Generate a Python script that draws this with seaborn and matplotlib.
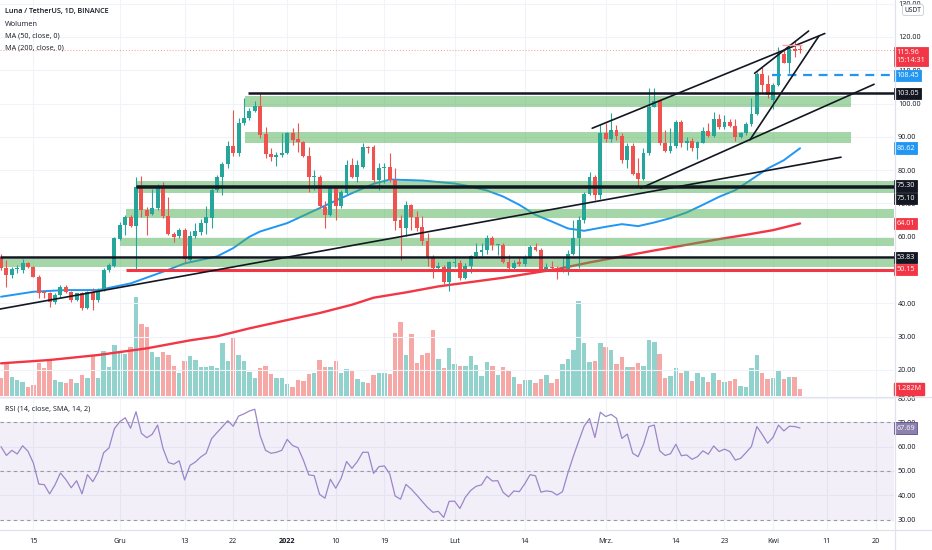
import numpy as np
import pandas as pd
import matplotlib
matplotlib.use("Agg")
import matplotlib.pyplot as plt
import matplotlib.dates as mdates
import matplotlib.transforms as mtransforms
from matplotlib.lines import Line2D
import seaborn as sns

# ---- data (LUNA/USDT daily, from 9 Nov 2021) ----
first_day = "2021-11-09"

opens = [54.0, 50.5, 48.5, 50.2, 50.0, 52.0, 51.0, 48.0, 43.5, 43.0,
         40.3, 42.6, 45.0, 43.3, 41.0, 43.0, 38.5, 43.5, 41.0, 44.0,
         50.0, 51.3, 59.3, 63.5, 66.0, 63.2, 75.0, 68.0, 66.8, 68.5,
         75.0, 66.2, 60.8, 60.2, 62.0, 53.1, 60.3, 61.3, 64.1, 65.6,
         74.1, 78.1, 81.9, 87.3, 85.3, 94.3, 95.6, 97.9, 99.3, 90.9,
         84.9, 84.0, 84.6, 85.3, 91.3, 89.3, 88.6, 84.3, 78.1, 78.1,
         68.8, 66.6, 74.6, 69.3, 73.1, 81.6, 78.1, 81.1, 87.1, 87.1,
         77.1, 80.6, 81.1, 77.1, 64.9, 62.6, 69.6, 65.9, 62.8, 58.8,
         53.9, 50.6, 50.9, 46.3, 52.1, 52.1, 47.6, 51.1, 54.1, 55.4,
         56.1, 59.6, 57.4, 57.4, 52.3, 50.6, 52.3, 51.7, 53.9, 56.9,
         56.1, 50.3, 50.8, 50.6, 49.6, 50.3, 54.9, 59.6, 65.1, 72.9,
         78.1, 72.6, 91.3, 89.4, 92.1, 90.3, 83.1, 87.4, 79.1, 77.3,
         85.1, 99.1, 100.9, 88.1, 85.9, 87.3, 94.6, 88.1, 88.9, 86.6,
         88.3, 91.9, 90.3, 95.3, 92.9, 94.6, 93.4, 90.1, 91.1, 93.9,
         96.9, 108.9, 105.8, 101.1, 105.6, 114.8, 112.3, 116.3, 116.2]
highs = [54.8, 53.0, 51.0, 51.5, 53.3, 52.5, 51.3, 48.5, 44.0, 43.5,
         43.0, 45.5, 45.5, 43.8, 43.2, 43.5, 43.8, 44.5, 44.5, 50.5,
         52.0, 60.0, 64.5, 66.5, 66.5, 78.0, 78.2, 69.0, 74.5, 76.0,
         76.5, 72.0, 61.5, 62.5, 62.5, 61.6, 64.1, 65.3, 69.1, 74.6,
         78.6, 82.6, 88.9, 98.1, 95.6, 101.6, 98.6, 100.9, 103.1, 93.1,
         86.6, 85.6, 91.1, 91.6, 92.6, 94.1, 88.9, 87.1, 80.1, 78.6,
         70.6, 75.1, 75.1, 74.1, 83.1, 83.6, 83.1, 88.1, 87.3, 87.6,
         82.1, 82.1, 85.1, 80.6, 66.6, 70.6, 69.9, 67.6, 66.1, 61.1,
         54.6, 52.3, 51.6, 52.6, 54.1, 53.1, 52.1, 54.6, 58.1, 58.1,
         60.6, 60.1, 57.9, 58.1, 54.6, 52.9, 53.6, 54.6, 57.6, 58.1,
         56.6, 52.1, 52.6, 51.1, 53.6, 56.1, 65.1, 66.1, 73.6, 79.6,
         78.6, 93.6, 94.3, 97.1, 93.6, 91.1, 88.3, 88.1, 83.6, 86.6,
         104.6, 104.6, 101.3, 92.1, 92.6, 95.1, 95.1, 90.1, 89.6, 88.9,
         93.1, 94.3, 97.6, 96.9, 96.6, 95.3, 95.3, 91.6, 94.6, 101.6,
         109.6, 111.1, 108.6, 106.1, 116.9, 116.1, 117.9, 119.1, 117.6]
lows = [50.0, 45.0, 47.5, 49.0, 49.0, 50.5, 47.8, 41.5, 41.5, 39.0,
        39.8, 42.0, 43.0, 40.5, 40.8, 38.0, 38.2, 38.0, 40.5, 43.8,
        49.5, 51.0, 59.0, 60.5, 63.0, 50.0, 66.0, 60.5, 66.5, 68.0,
        65.5, 60.5, 58.5, 59.5, 52.5, 52.6, 59.6, 60.6, 60.9, 62.6,
        73.6, 72.6, 80.6, 84.3, 84.3, 93.6, 95.1, 97.6, 89.6, 83.6,
        82.9, 81.3, 84.1, 84.9, 87.6, 85.6, 83.9, 73.6, 74.1, 68.6,
        62.6, 66.1, 65.1, 68.6, 72.6, 77.6, 76.6, 80.6, 85.1, 76.1,
        74.1, 76.1, 76.6, 62.1, 53.1, 60.1, 62.1, 61.6, 57.6, 51.1,
        47.6, 50.1, 45.9, 43.6, 50.9, 47.1, 47.3, 49.1, 53.6, 54.3,
        54.9, 56.1, 54.6, 52.1, 50.1, 49.9, 51.1, 51.1, 53.6, 55.6,
        49.6, 49.6, 49.6, 47.3, 49.3, 48.6, 54.6, 50.6, 64.1, 72.6,
        71.1, 71.3, 88.6, 88.6, 89.1, 82.1, 80.6, 78.6, 75.6, 77.1,
        84.6, 98.9, 87.6, 85.6, 85.1, 86.6, 87.1, 86.1, 85.9, 83.3,
        88.1, 90.1, 90.1, 92.3, 92.3, 93.1, 88.9, 89.6, 90.6, 93.3,
        96.6, 103.6, 101.6, 98.3, 105.3, 112.1, 109.1, 113.9, 115.1]
closes = [50.5, 48.5, 50.2, 50.6, 52.0, 51.0, 48.0, 43.2, 43.0, 40.4,
          42.6, 45.0, 43.5, 41.0, 43.0, 38.5, 43.3, 41.0, 44.0, 50.0,
          51.5, 59.5, 63.5, 66.0, 63.2, 75.0, 68.0, 66.2, 68.5, 75.0,
          66.2, 60.8, 59.8, 62.0, 53.2, 60.3, 61.6, 64.1, 65.8, 74.1,
          78.1, 81.9, 87.3, 85.3, 94.3, 95.6, 97.9, 99.3, 90.6, 84.9,
          83.9, 84.6, 85.3, 91.3, 89.1, 88.6, 84.3, 78.1, 78.4, 69.1,
          66.6, 74.6, 69.3, 73.6, 81.6, 78.1, 81.6, 87.1, 86.8, 77.1,
          80.6, 81.0, 77.1, 64.6, 62.6, 69.6, 65.9, 62.6, 58.6, 53.9,
          50.6, 51.1, 46.3, 52.3, 52.3, 47.6, 51.1, 54.1, 55.4, 56.1,
          59.6, 57.4, 57.5, 52.3, 50.6, 52.1, 51.7, 53.9, 56.9, 56.1,
          50.3, 50.8, 50.6, 49.6, 50.3, 54.9, 59.6, 65.1, 72.9, 78.1,
          72.6, 91.3, 89.4, 92.1, 90.3, 83.1, 87.4, 78.9, 77.3, 85.1,
          99.1, 100.9, 88.1, 85.9, 87.3, 94.6, 88.1, 88.9, 86.6, 88.6,
          91.9, 90.3, 95.3, 92.9, 94.6, 93.4, 90.1, 91.3, 93.9, 96.9,
          108.9, 105.6, 102.6, 105.6, 115.1, 112.3, 116.3, 115.9, 115.96]

# volume in millions
volume_m = [3.11, 5.74, 3.28, 2.81, 2.51, 1.63, 1.93, 5.74, 4.86, 6.32,
            2.81, 2.51, 2.34, 2.99, 2.34, 3.69, 3.11, 7.02, 3.11, 7.95,
            5.04, 8.96, 7.78, 7.38, 8.66, 17.44, 12.64, 12.17, 7.78, 6.90,
            7.67, 7.20, 5.27, 3.99, 6.15, 7.02, 6.32, 5.15, 5.04, 5.32,
            4.92, 9.36, 6.20, 10.18, 7.25, 6.20, 4.27, 3.11, 4.92, 5.22,
            3.86, 3.16, 3.16, 2.11, 1.53, 2.86, 2.69, 3.86, 4.04, 6.37,
            5.04, 5.04, 6.20, 3.99, 4.74, 4.44, 2.99, 2.51, 2.23, 3.69,
            4.09, 4.04, 3.92, 11.06, 12.99, 7.25, 10.83, 5.79, 7.15, 7.55,
            11.64, 6.55, 4.97, 8.48, 5.67, 5.27, 5.27, 6.97, 5.39, 3.51,
            5.97, 5.22, 3.63, 5.09, 4.39, 3.34, 2.16, 2.86, 2.76, 2.34,
            3.04, 3.63, 2.34, 3.04, 5.62, 6.50, 8.08, 16.73, 9.25, 6.02,
            6.20, 9.25, 8.55, 8.13, 5.62, 6.80, 5.04, 5.04, 5.74, 5.32,
            9.89, 9.48, 7.38, 3.11, 3.56, 4.92, 4.04, 4.44, 2.69, 4.04,
            3.28, 2.41, 4.04, 2.86, 2.41, 2.69, 2.93, 1.70, 1.58, 4.97,
            7.15, 4.09, 2.93, 3.21, 4.34, 3.04, 3.34, 3.34, 1.282]

rsi_values = [60.0, 56.4, 58.5, 57.0, 60.4, 58.1, 53.2, 44.6, 44.4, 40.6,
              44.3, 49.2, 46.5, 43.1, 46.0, 40.6, 48.5, 45.6, 49.6, 57.5,
              59.5, 67.4, 70.3, 71.9, 67.6, 74.4, 65.5, 63.7, 65.1, 68.9,
              59.3, 53.5, 52.8, 54.2, 46.3, 52.3, 53.7, 55.8, 57.3, 63.3,
              65.8, 68.2, 70.7, 68.4, 72.6, 73.5, 74.7, 75.4, 64.5, 58.5,
              57.3, 57.7, 58.5, 63.0, 60.5, 59.6, 54.5, 48.4, 48.1, 40.4,
              38.8, 46.6, 42.9, 47.0, 53.9, 51.1, 53.9, 57.7, 57.7, 49.0,
              51.8, 52.1, 48.8, 39.7, 38.4, 44.5, 42.5, 40.1, 37.5, 35.0,
              33.0, 33.4, 30.9, 37.5, 37.6, 34.6, 39.2, 42.0, 43.7, 44.3,
              47.8, 45.9, 46.0, 41.2, 39.4, 41.8, 41.5, 44.7, 48.5, 48.0,
              41.3, 41.8, 41.5, 40.1, 41.5, 49.2, 56.0, 62.3, 68.4, 71.6,
              63.8, 74.2, 72.4, 73.3, 71.7, 63.4, 65.2, 57.3, 55.9, 61.0,
              68.3, 68.9, 58.3, 56.4, 57.1, 61.0, 56.3, 56.6, 54.8, 55.9,
              58.3, 56.9, 60.3, 58.0, 59.0, 58.0, 54.5, 55.2, 57.6, 60.1,
              68.3, 65.0, 61.4, 63.9, 68.9, 66.5, 68.4, 68.3, 67.69]

# moving averages, read at sample days (day index from first_day)
ma50_day = [0, 6, 12, 18, 24, 30, 34, 40, 43, 46, 48, 53, 59, 65, 69, 72, 78, 84, 87, 90,
            93, 96, 99, 102, 105, 108, 112, 115, 118, 121, 124, 127, 130, 133, 136, 139,
            142, 145, 148]
ma50_val = [42.0, 43.5, 44.0, 44.0, 46.0, 49.5, 52.0, 54.1, 56.6, 60.0, 61.6, 64.1, 68.6,
            73.1, 75.9, 77.2, 76.9, 76.0, 75.1, 73.9, 72.1, 69.6, 66.6, 64.6, 62.5, 61.8,
            63.0, 63.8, 63.2, 64.3, 65.6, 67.3, 69.6, 72.0, 74.0, 77.2, 80.5, 83.0, 86.6]
ma200_day = [0, 9, 18, 27, 35, 40, 46, 53, 59, 65, 69, 75, 81, 87, 93, 98, 103, 109, 115,
             121, 127, 133, 138, 143, 148]
ma200_val = [22.0, 23.0, 24.5, 26.5, 28.9, 30.1, 32.5, 35.0, 37.1, 39.6, 41.7, 43.3, 45.1,
             46.4, 47.7, 49.0, 50.3, 52.3, 54.1, 55.9, 57.6, 59.3, 60.6, 62.0, 64.0]

# drawings: support/resistance zones (low, high, start, end); None = right edge
zones = [
    (98.9, 102.2, "2021-12-24 05:00", "2022-04-15 10:00"),
    (88.1, 91.4, "2021-12-24 05:00", "2022-04-15 10:00"),
    (73.1, 76.8, "2021-12-04 00:00", None),
    (65.6, 68.3, "2021-12-02 02:00", None),
    (57.1, 59.6, "2021-12-01 00:00", None),
    (50.9, 53.4, None, None),
]
black_levels = [(103.05, "2021-12-24 17:00"), (75.30, "2021-12-04 00:00"),
                (75.10, "2021-12-04 00:00"), (53.83, None)]
red_level = (50.15, "2021-12-02 02:00")
blue_level = (108.45, "2022-03-31 19:00")
trend_lines = [
    (("2021-11-08 19:00", 38.3), ("2022-04-13 14:00", 83.9)),
    (("2022-02-26 12:00", 92.6), ("2022-04-10 14:00", 121.05)),
    (("2022-03-07 12:00", 74.6), ("2022-04-19 17:00", 105.8)),
    (("2022-03-27 17:00", 89.1), ("2022-04-09 12:00", 120.3)),
    (("2022-03-28 14:00", 109.1), ("2022-04-07 14:00", 121.8)),
]

tick_dates = ["2021-11-15", "2021-12-01", "2021-12-13", "2021-12-22", "2022-01-01",
              "2022-01-10", "2022-01-19", "2022-02-01", "2022-02-14", "2022-03-01",
              "2022-03-14", "2022-03-23", "2022-04-01", "2022-04-11", "2022-04-20"]
tick_labels = ["15", "Gru", "13", "22", "2022", "10", "19", "Lut", "14", "Mrz.",
               "14", "23", "Kwi", "11", "20"]

# ---- style ----
sns.set_theme(style="white")
plt.rcParams["font.family"] = ["Open Sans", "DejaVu Sans"]
plt.rcParams["font.size"] = 5.2
TEAL = "#26a69a"
RED = "#ef5350"
INK = "#131722"
FS = 5.2

W, H = 932, 550


def fx(px):
    return px / W


def fy(py):
    return 1 - py / H


fig = plt.figure(figsize=(9.32, 5.5), dpi=100)
ax = fig.add_axes([0, fy(396), fx(894), 396 / H])
rax = fig.add_axes([0, fy(530), fx(894), (530 - 397) / H])
vax = ax.twinx()
ax.set_zorder(vax.get_zorder() + 1)
ax.patch.set_visible(False)

dates = pd.date_range(first_day, periods=len(closes), freq="D")
o = np.array(opens)
c = np.array(closes)
up = c >= o
cols = np.where(up, TEAL, RED)

t0 = pd.Timestamp(first_day)
x_left = t0 - pd.Timedelta(days=0.19)
x_right = t0 + pd.Timedelta(days=165.4)


def ts(s, default):
    return default if s is None else pd.Timestamp(s)


# volume
vax.bar(dates, volume_m, width=0.82, color=cols, alpha=0.5, linewidth=0)
vax.set_ylim(0, 396 * 0.1756)
vax.set_axis_off()

# moving averages
sns.lineplot(x=dates[ma200_day], y=ma200_val, ax=ax, color="#f23645", lw=1.7, zorder=1)
sns.lineplot(x=dates[ma50_day], y=ma50_val, ax=ax, color="#2196f3", lw=1.4, zorder=1)

# zones
for lo, hi, s, e in zones:
    ax.fill_between([ts(s, x_left), ts(e, x_right)], lo, hi, color="#4caf50",
                    alpha=0.5, lw=0, zorder=2)

# candles
ax.vlines(dates, lows, highs, colors=cols, lw=0.8, zorder=3)
body = np.maximum(np.abs(c - o), 0.3)
ax.bar(dates, body, bottom=np.minimum(o, c), width=0.72, color=cols, linewidth=0, zorder=3)

# levels and trend lines
for y, s in black_levels:
    ax.hlines(y, ts(s, x_left), x_right, color=INK, lw=1.8, zorder=4)
ax.hlines(red_level[0], ts(red_level[1], x_left), x_right, color="#f23645", lw=2.2, zorder=4)
ax.hlines(blue_level[0], ts(blue_level[1], x_left), x_right, color="#2196f3", lw=1.6,
          linestyles=(0, (4, 3)), zorder=4)
for (sa, pa), (sb, pb) in trend_lines:
    ax.plot([pd.Timestamp(sa), pd.Timestamp(sb)], [pa, pb], color=INK, lw=1.2, zorder=4)
ax.axhline(closes[-1], color=RED, lw=0.7, ls=(0, (1, 2)), alpha=0.6, zorder=2)
ax.hlines(117.6, pd.Timestamp("2022-04-02 14:00"), pd.Timestamp("2022-04-06 10:00"),
          color="#f7a5a5", lw=1.0, zorder=4)

# RSI
rax.axhspan(30, 70, color="#7e57c2", alpha=0.09, lw=0)
for lvl in (70, 50, 30):
    rax.axhline(lvl, color="#9598a1", lw=0.8, ls=(0, (3, 3)))
sns.lineplot(x=dates, y=rsi_values, ax=rax, color="#9b86c9", lw=0.9)

# axes
for a in (ax, rax):
    a.set_xlim(x_left, x_right)
    a.set_xlabel("")
    a.set_ylabel("")
    for sp in a.spines.values():
        sp.set_visible(False)
    a.set_xticks([pd.Timestamp(d) for d in tick_dates])
    a.grid(True, color="#f0f3fa", lw=0.8)
    a.set_axisbelow(True)
    a.yaxis.tick_right()
    a.tick_params(axis="both", length=0, labelsize=FS, labelcolor=INK, pad=2.9)

ax.set_ylim(12.19, 131.11)
ax.set_yticks(range(20, 131, 10))
ax.set_yticklabels([f"{v:.2f}" for v in range(20, 131, 10)])
ax.tick_params(axis="x", labelbottom=False)

rax.set_ylim(25.72, 80.45)
rax.set_yticks(range(30, 81, 10))
rax.set_yticklabels([f"{v:.2f}" for v in range(30, 81, 10)])
rax.set_xticklabels(tick_labels)
rax.tick_params(axis="x", pad=6)
rax.get_xticklabels()[4].set_fontweight("bold")


def tag(axis, y, text, color, dy=0, tcolor="white", ec=None, trans=None):
    tr = mtransforms.blended_transform_factory(axis.transAxes, trans or axis.transData)
    axis.annotate(text, xy=(1, y), xycoords=tr, xytext=(1.7, dy), textcoords="offset points",
                  ha="left", va="center", fontsize=FS, color=tcolor, annotation_clip=False,
                  bbox=dict(boxstyle="square,pad=0.32", fc=color, ec=ec or color, lw=0.6),
                  zorder=20)


tag(ax, 115.96, "115.96\n15:14:31", "#f23645", dy=-4.3)
tag(ax, 108.45, "108.45", "#2196f3")
tag(ax, 103.05, "103.05", INK)
tag(ax, 86.62, "86.62", "#2196f3")
tag(ax, 75.30, "75.30", INK)
tag(ax, 75.10, "75.10", INK, dy=-8.6)
tag(ax, 64.01, "64.01", "#f23645")
tag(ax, 53.83, "53.83", INK)
tag(ax, 50.15, "50.15", "#f23645")
tr_v = mtransforms.blended_transform_factory(ax.transAxes, vax.transData)
ax.annotate("1.282M", xy=(1, volume_m[-1]), xycoords=tr_v, xytext=(1.7, 0),
            textcoords="offset points", ha="left", va="center", fontsize=FS, color="white",
            annotation_clip=False, zorder=20,
            bbox=dict(boxstyle="square,pad=0.32", fc="#f23645", ec="#f23645"))
tag(rax, 67.69, "67.69", "#8c80ad", ec="#5e4b8b")

# frame lines
for y in (396.5, 530):
    fig.add_artist(Line2D([0, 1], [fy(y), fy(y)], color="#e0e3eb", lw=0.9))
fig.add_artist(Line2D([fx(894.5), fx(894.5)], [0, 1], color="#e0e3eb", lw=0.9))

# titles
fig.text(fx(5), fy(12), "Luna / TetherUS, 1D, BINANCE", fontsize=FS, color=INK,
         fontweight="semibold", va="center")
for k, s in enumerate(["Wolumen", "MA (50, close, 0)", "MA (200, close, 0)"]):
    fig.text(fx(5), fy(24 + 12 * k), s, fontsize=FS, color=INK, va="center")
fig.text(fx(5), fy(409), "RSI (14, close, SMA, 14, 2)", fontsize=FS, color=INK, va="center")
fig.text(fx(913), fy(10), "USDT", fontsize=FS - 0.4, color=INK, ha="center", va="center",
         bbox=dict(boxstyle="round,pad=0.3", fc="white", ec="#c9ccd4", lw=0.6))

fig.savefig("out.png", dpi=100)
